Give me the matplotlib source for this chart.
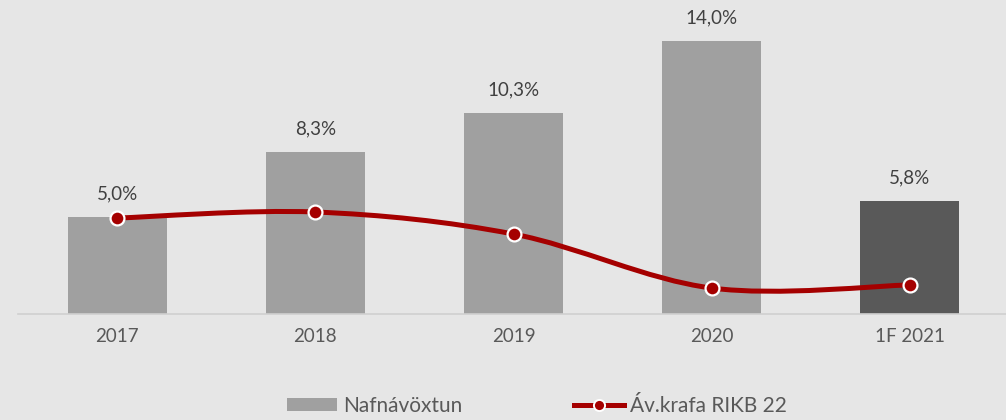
"""Nafnávöxtun vs. áv.krafa RIKB 22."""

import numpy as np
import matplotlib
matplotlib.use("Agg")
import matplotlib.pyplot as plt
from matplotlib.path import Path
from matplotlib.patches import PathPatch, Patch
from matplotlib.lines import Line2D

categories = ["2017", "2018", "2019", "2020", "1F 2021"]
nafnavoxtun = [5.0, 8.3, 10.3, 14.0, 5.8]
rikb22 = [4.92, 5.23, 4.10, 1.33, 1.49]
bar_labels = ["5,0%", "8,3%", "10,3%", "14,0%", "5,8%"]

BG = "#e6e6e6"
BAR = "#a0a0a0"
BAR_LAST = "#595959"
RED = "#a50000"
TXT = "#595959"

plt.rcParams["font.family"] = ["Lato", "DejaVu Sans"]

fig = plt.figure(figsize=(10.06, 4.2), dpi=100, facecolor=BG)
ax = fig.add_axes([18 / 1006, 106 / 420, 991 / 1006, (314 - 21.5) / 420])
ax.set_facecolor(BG)

x = np.arange(len(categories))
colors = [BAR] * (len(categories) - 1) + [BAR_LAST]
ax.bar(x, nafnavoxtun, width=0.5, color=colors, zorder=2)

for xi, v, lab in zip(x, nafnavoxtun, bar_labels):
    ax.text(xi, v + 0.75, lab, ha="center", va="bottom", fontsize=13.5, color="#404040")

# smooth line like Excel: cubic bezier segments through the points
pts = np.column_stack([x, rikb22]).astype(float)
verts = [pts[0]]
codes = [Path.MOVETO]
n = len(pts)
for i in range(n - 1):
    p0 = pts[max(i - 1, 0)]
    p1 = pts[i]
    p2 = pts[i + 1]
    p3 = pts[min(i + 2, n - 1)]
    c1 = p1 + (p2 - p0) / 6.0
    c2 = p2 - (p3 - p1) / 6.0
    verts += [c1, c2, p2]
    codes += [Path.CURVE4] * 3
ax.add_patch(PathPatch(Path(verts, codes), facecolor="none", edgecolor=RED,
                       lw=3.6, capstyle="round", zorder=3))
ax.plot(x, rikb22, linestyle="none", marker="o", markersize=10,
        markerfacecolor=RED, markeredgecolor="white", markeredgewidth=1.6, zorder=4)

ax.set_xlim(-0.5, len(categories) - 0.5)
ax.set_ylim(0, 15)
ax.set_yticks([])
ax.set_xticks(x)
ax.set_xticklabels(categories, fontsize=13.5, color=TXT)
ax.tick_params(axis="x", length=0, pad=10)
for s in ["top", "right", "left"]:
    ax.spines[s].set_visible(False)
ax.spines["bottom"].set_color("#d0d0d0")
ax.spines["bottom"].set_linewidth(1.2)

handles = [
    Patch(facecolor=BAR, edgecolor="none"),
    Line2D([0], [0], color=RED, lw=3.6, marker="o", markersize=8,
           markerfacecolor=RED, markeredgecolor="white", markeredgewidth=1.4),
]
fig.legend(handles, ["Nafnávöxtun", "Áv.krafa RIKB 22"], loc="center",
           bbox_to_anchor=(537 / 1006, 1 - 406 / 420), ncol=2, frameon=False,
           fontsize=15, labelcolor=TXT, handlelength=2.4, handleheight=0.55,
           handletextpad=0.25, columnspacing=5.4)

fig.savefig("out.png", dpi=100, facecolor=BG)
plt.close(fig)
